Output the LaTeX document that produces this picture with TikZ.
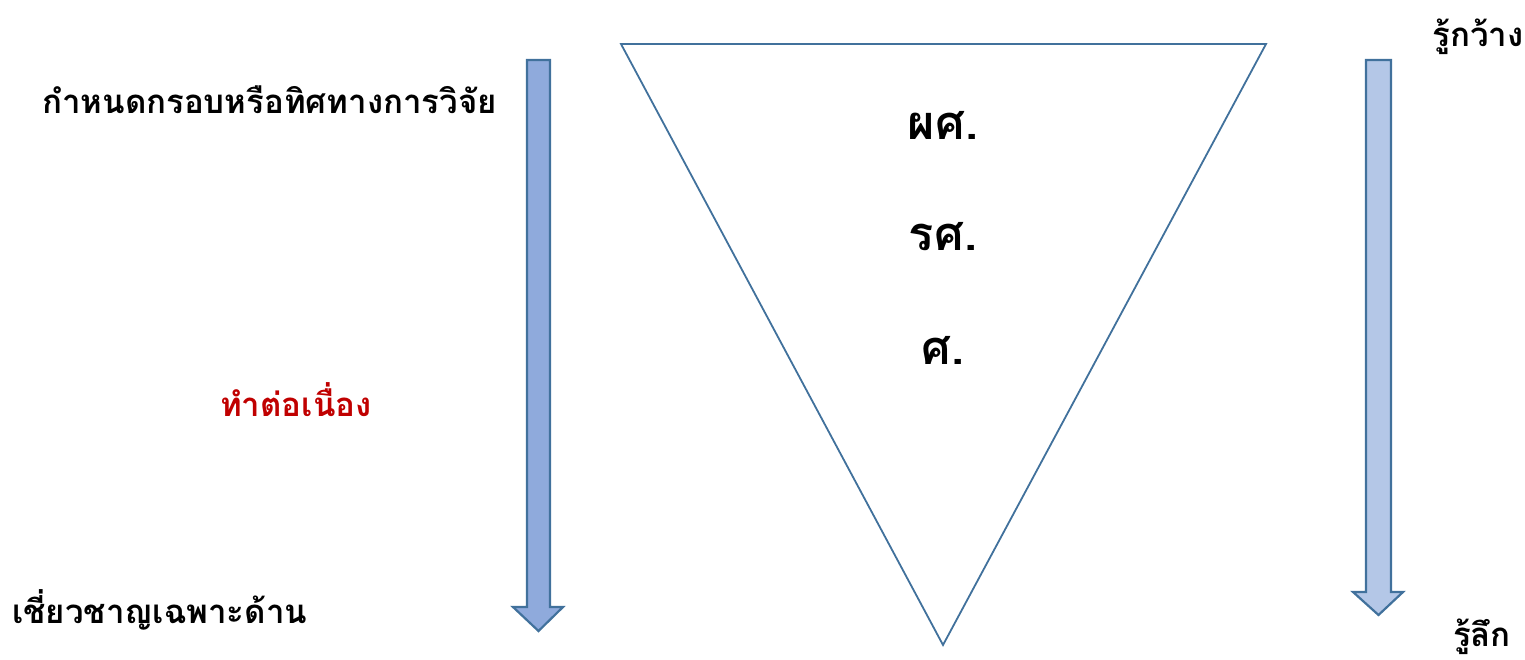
\documentclass[tikz,border=0pt]{standalone}
\usepackage{fontspec}
\newfontfamily\thaifont[Script=Thai]{Loma}
\definecolor{edgeblue}{HTML}{41719C}
\definecolor{fillA}{HTML}{8FAADC}
\definecolor{fillB}{HTML}{B4C7E7}
\definecolor{darkred}{HTML}{C00000}
\begin{document}
\begin{tikzpicture}[x=1pt,y=-1pt,
  lbl/.style={font=\thaifont\bfseries\fontsize{33}{38}\selectfont,inner sep=0pt},
  rank/.style={font=\thaifont\bfseries\fontsize{47}{54}\selectfont,inner sep=0pt},
  bigarrow/.style={draw=edgeblue,line width=2.2pt,line join=miter}]
  \useasboundingbox (0,0) rectangle (1525,660);
  % triangle
  \draw[edgeblue,line width=1.8pt,line join=miter] (621,44) -- (1266,44) -- (943,645) -- cycle;
  % arrows
  \draw[bigarrow,fill=fillA] (527,60) -- (550,60) -- (550,607) -- (563,607)
    -- (538.5,631) -- (513,607) -- (527,607) -- cycle;
  \draw[bigarrow,fill=fillB] (1366,60) -- (1391,60) -- (1391,592) -- (1403,592)
    -- (1378.5,615) -- (1353,592) -- (1366,592) -- cycle;
  % labels
  \node[lbl,anchor=west] (frame) at (42,100) {กำหนดกรอบหรือทิศทางการวิจัย};
  \node[lbl,anchor=west,text=darkred] (cont) at (220,400) {ทำต่อเนื่อง};
  \node[lbl,anchor=west] (expert) at (12,610) {เชี่ยวชาญเฉพาะด้าน};
  \node[lbl] (wide) at (1478,37) {รู้กว้าง};
  \node[lbl] (deep) at (1482,637) {รู้ลึก};
  \node[rank] (asst) at (943,125) {ผศ.};
  \node[rank] (assoc) at (943,237) {รศ.};
  \node[rank] (prof) at (943,350) {ศ.};
\end{tikzpicture}
\end{document}
